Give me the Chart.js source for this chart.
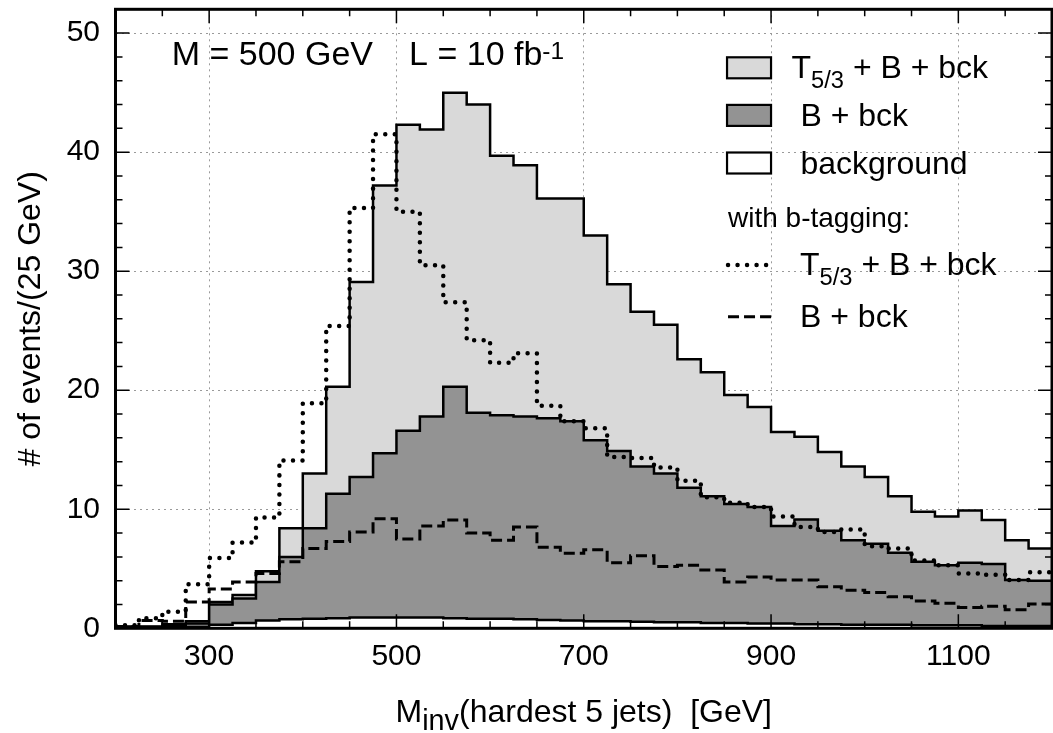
<!DOCTYPE html>
<html>
<head>
<meta charset="utf-8">
<script src="https://cdn.jsdelivr.net/npm/chart.js@4.4.1/dist/chart.umd.min.js"></script>
<style>
  html, body { margin: 0; padding: 0; background: #fff; }
</style>
</head>
<body>
<canvas id="minv" width="1053" height="733"></canvas>
<script>
// 25 GeV bins, lower edges + the last upper edge
const binEdges = [200, 225, 250, 275, 300, 325, 350, 375, 400, 425, 450, 475, 500, 525, 550, 575, 600, 625, 650, 675,
                  700, 725, 750, 775, 800, 825, 850, 875, 900, 925, 950, 975, 1000, 1025, 1050, 1075, 1100, 1125, 1150, 1175, 1200];

// T5/3 + B + bck (light grey)
const totalHist = [0.15, 0.15, 0.35, 0.6, 2.2, 2.8, 4.8, 8.4, 13.0, 20.3, 29.1, 37.2, 42.3, 41.9, 45.0, 44.0, 39.7, 38.9, 36.1, 36.1,
                   33.0, 28.9, 26.6, 25.5, 22.6, 21.5, 19.6, 18.6, 16.5, 16.1, 14.8, 13.6, 12.7, 11.1, 9.8, 9.4, 9.9, 9.1, 7.4, 6.7];
// B + bck (dark grey)
const bHist = [0.1, 0.1, 0.2, 0.4, 2.0, 2.5, 3.9, 6.0, 8.4, 11.3, 12.7, 14.7, 16.6, 17.8, 20.3, 18.1, 17.9, 17.8, 17.65, 17.4,
               15.8, 14.9, 13.6, 13.0, 11.8, 11.1, 10.45, 10.2, 8.6, 9.15, 8.2, 7.4, 7.1, 6.35, 5.6, 5.3, 5.5, 5.4, 4.05, 4.0];
// background only (white)
const bkgHist = [0.05, 0.05, 0.05, 0.1, 0.3, 0.45, 0.65, 0.75, 0.8, 0.85, 0.9, 0.9, 0.9, 0.9, 0.85, 0.8, 0.8, 0.75, 0.7, 0.65,
                 0.6, 0.6, 0.55, 0.5, 0.5, 0.45, 0.45, 0.4, 0.4, 0.35, 0.35, 0.3, 0.3, 0.3, 0.25, 0.25, 0.25, 0.2, 0.2, 0.2];
// with b-tagging: T5/3 + B + bck (dotted)
const tagTotal = [0.25, 0.85, 1.4, 3.7, 5.9, 7.2, 9.3, 14.1, 18.9, 25.4, 35.3, 41.5, 35.0, 30.5, 27.4, 24.2, 22.3, 23.1, 18.7, 17.4,
                  16.8, 14.4, 14.3, 13.5, 12.4, 11.0, 10.55, 10.2, 9.4, 8.5, 8.1, 8.3, 6.9, 6.7, 5.7, 5.3, 4.6, 4.5, 4.05, 4.7];
// with b-tagging: B + bck (dashed)
const tagB = [0.15, 0.65, 0.6, 2.2, 3.3, 3.9, 4.6, 5.6, 6.7, 7.3, 8.1, 9.2, 7.5, 8.6, 9.1, 8.0, 7.4, 8.5, 6.8, 6.3,
              6.6, 5.5, 6.1, 5.2, 5.3, 4.9, 3.9, 4.3, 4.05, 4.05, 3.5, 3.2, 3.0, 2.65, 2.3, 2.1, 1.75, 1.85, 1.55, 2.05];

const xTickValues = [300, 500, 700, 900, 1100];
const yTickValues = [0, 10, 20, 30, 40, 50];

const FONT = "'Liberation Sans', Arial, Helvetica, sans-serif";
const LIGHT = '#d9d9d9';
const DARK = '#939393';
const DOTS = [0.01, 9.5];
const DASHES = [11, 5];

Chart.defaults.font.family = FONT;
Chart.defaults.color = '#000';

// histogram -> points for a stepped line, last bin closed at its upper edge
function steps(vals) {
  const pts = vals.map((v, i) => ({x: binEdges[i], y: v}));
  pts.push({x: binEdges[vals.length], y: vals[vals.length - 1]});
  return pts;
}

function hist(vals, fillColor, order) {
  return {
    data: steps(vals), order: order,
    stepped: true, tension: 0, pointRadius: 0,
    borderColor: '#000', borderWidth: 2.5, borderJoinStyle: 'miter',
    backgroundColor: fillColor, fill: 'origin'
  };
}

// draws a run of text pieces: [text, scale, dy]
function rich(ctx, parts, x, y, size) {
  for (const p of parts) {
    ctx.font = (size * p[1]) + 'px ' + FONT;
    ctx.fillText(p[0], x, y + p[2]);
    x += ctx.measureText(p[0]).width;
  }
  return x;
}

function partsWidth(ctx, parts, size) {
  let w = 0;
  for (const p of parts) {
    ctx.font = (size * p[1]) + 'px ' + FONT;
    w += ctx.measureText(p[0]).width;
  }
  return w;
}

const decorations = {
  id: 'decorations',
  afterDatasetsDraw(chart) {
    const {ctx, chartArea: a, scales: {x, y}} = chart;
    ctx.save();
    ctx.strokeStyle = '#000';
    ctx.lineWidth = 1.5;
    ctx.beginPath();
    // inward ticks on all four sides
    for (let v = 250; v < 1200; v += 50) {
      const len = xTickValues.includes(v) ? 14 : 7;
      const px = x.getPixelForValue(v);
      ctx.moveTo(px, a.bottom); ctx.lineTo(px, a.bottom - len);
      ctx.moveTo(px, a.top); ctx.lineTo(px, a.top + len);
    }
    for (let v = 2; v < 52; v += 2) {
      const len = yTickValues.includes(v) ? 14 : 7;
      const py = y.getPixelForValue(v);
      ctx.moveTo(a.left, py); ctx.lineTo(a.left + len, py);
      ctx.moveTo(a.right, py); ctx.lineTo(a.right - len, py);
    }
    ctx.stroke();
    ctx.lineWidth = 3;
    ctx.strokeRect(a.left, a.top, a.right - a.left, a.bottom - a.top);
    ctx.restore();
  },
  afterDraw(chart) {
    const {ctx, chartArea: a, scales: {x, y}} = chart;
    ctx.save();
    ctx.fillStyle = '#000';
    ctx.textAlign = 'left';
    ctx.textBaseline = 'alphabetic';

    // x axis title with subscript
    const xt = [['M', 1, 0], ['inv', 0.9, 8], ['(hardest 5 jets)  [GeV]', 1, 0]];
    const xw = partsWidth(ctx, xt, 32);
    rich(ctx, xt, (a.left + a.right) / 2 - xw / 2, 722, 32);

    // annotation
    const ty = a.top + 56;
    rich(ctx, [['M = 500 GeV', 1, 0]], x.getPixelForValue(260), ty, 34);
    rich(ctx, [['L = 10 fb', 1, 0], ['-1', 0.72, -6]], x.getPixelForValue(513.5), ty, 34);

    // legend
    const lx = x.getPixelForValue(853);
    const boxes = [
      {fill: LIGHT, parts: [['T', 1, 0], ['5/3', 0.74, 10], [' + B + bck', 1, 0]]},
      {fill: DARK, parts: [[' B + bck', 1, 0]]},
      {fill: '#ffffff', parts: [[' background', 1, 0]]}
    ];
    boxes.forEach((b, i) => {
      const base = a.top + 69 + i * 47.6;
      ctx.fillStyle = b.fill;
      ctx.fillRect(lx, base - 21, 44, 21);
      ctx.strokeStyle = '#000';
      ctx.lineWidth = 2.2;
      ctx.strokeRect(lx, base - 21, 44, 21);
      ctx.fillStyle = '#000';
      rich(ctx, b.parts, lx + 64.5, base, 32);
    });
    rich(ctx, [['with b-tagging:', 1, 0]], lx + 1, a.top + 217.4, 28);

    const lines = [
      {dash: DOTS, width: 4.5, cap: 'round', parts: [['T', 1, 0], ['5/3', 0.74, 10], [' + B + bck', 1, 0]]},
      {dash: DASHES, width: 3, cap: 'butt', parts: [['B + bck', 1, 0]]}
    ];
    lines.forEach((l, i) => {
      const base = a.top + 265.7 + i * 51.7;
      ctx.save();
      ctx.setLineDash(l.dash);
      ctx.lineCap = l.cap;
      ctx.lineWidth = l.width;
      ctx.beginPath();
      ctx.moveTo(lx + 1, base - 10);
      ctx.lineTo(lx + 44, base - 10);
      ctx.stroke();
      ctx.restore();
      rich(ctx, l.parts, lx + 73, base, 32);
    });
    ctx.restore();
  }
};

new Chart(document.getElementById('minv'), {
  type: 'line',
  data: {
    datasets: [
      hist(totalHist, LIGHT, 4),
      hist(bHist, DARK, 3),
      hist(bkgHist, '#ffffff', 2),
      {
        data: steps(tagTotal), order: 1, stepped: true, pointRadius: 0, fill: false,
        borderColor: '#000', borderWidth: 4.5, borderDash: DOTS, borderCapStyle: 'round'
      },
      {
        data: steps(tagB), order: 0, stepped: true, pointRadius: 0, fill: false,
        borderColor: '#000', borderWidth: 3, borderDash: DASHES
      }
    ]
  },
  options: {
    responsive: false,
    animation: false,
    layout: { padding: { top: 9.3, right: 1, left: 0, bottom: 0 } },
    plugins: { legend: { display: false }, tooltip: { enabled: false } },
    scales: {
      x: {
        type: 'linear', min: 200, max: 1200,
        afterBuildTicks: s => { s.ticks = xTickValues.map(v => ({value: v})); },
        afterFit: s => { s.height = 104.7; s.paddingLeft = 0; s.paddingRight = 0; },
        grid: { color: '#9a9a9a', lineWidth: 1, drawTicks: false },
        border: { display: false, dash: [2, 4] },
        ticks: { font: { size: 30 }, padding: 10, maxRotation: 0, autoSkip: false, callback: v => String(v) }
      },
      y: {
        min: 0, max: 52,
        afterBuildTicks: s => { s.ticks = yTickValues.map(v => ({value: v})); },
        afterFit: s => { s.width = 115.5; s.paddingTop = 0; s.paddingBottom = 0; },
        grid: { color: '#9a9a9a', lineWidth: 1, drawTicks: false },
        border: { display: false, dash: [2, 4] },
        ticks: { font: { size: 30 }, padding: 15.5, callback: v => String(v) },
        title: { display: true, text: '# of events/(25 GeV)', font: { size: 32 }, padding: { top: 12 } }
      }
    }
  },
  plugins: [decorations]
});
</script>
</body>
</html>
